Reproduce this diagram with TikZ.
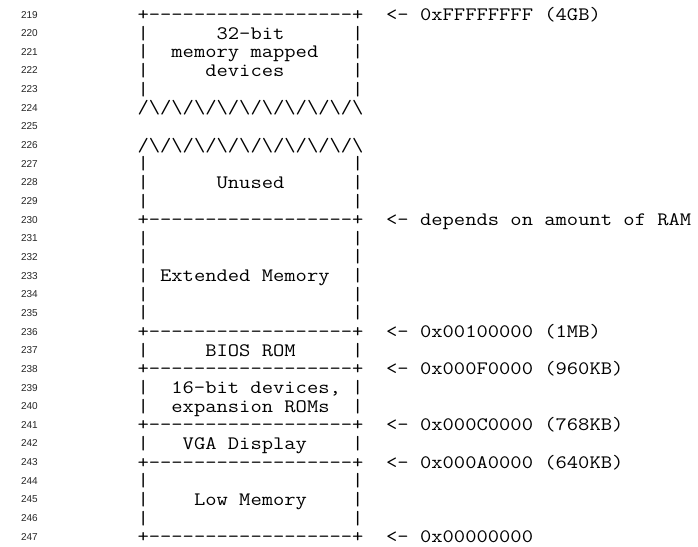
\documentclass[tikz,border=0pt]{standalone}
\usepackage{fontspec}
\setsansfont{Liberation Sans}
\newcommand{\bs}{\textbackslash}
\newcommand{\ml}[1]{\scalebox{1.155}[1]{#1}}
\tikzset{
  mono/.style={anchor=base west, inner sep=0pt, font=\ttfamily\fontsize{19}{19}\selectfont, text=black},
  lnum/.style={anchor=base east, inner sep=0pt, font=\sffamily\fontsize{10}{10}\selectfont, text=black!85},
}
\newcommand{\LY}[1]{20.5+18.65*#1}
\newcommand{\NY}[1]{18+18.65*#1}
\begin{document}
\begin{tikzpicture}[x=1pt,y=-1pt]
\useasboundingbox[fill=white] (0,0) rectangle (698,546);
% line numbers
\node[lnum] (n219) at (38,{\NY{0}}) {219};
\node[lnum] (n220) at (38,{\NY{1}}) {220};
\node[lnum] (n221) at (38,{\NY{2}}) {221};
\node[lnum] (n222) at (38,{\NY{3}}) {222};
\node[lnum] (n223) at (38,{\NY{4}}) {223};
\node[lnum] (n224) at (38,{\NY{5}}) {224};
\node[lnum] (n225) at (38,{\NY{6}}) {225};
\node[lnum] (n226) at (38,{\NY{7}}) {226};
\node[lnum] (n227) at (38,{\NY{8}}) {227};
\node[lnum] (n228) at (38,{\NY{9}}) {228};
\node[lnum] (n229) at (38,{\NY{10}}) {229};
\node[lnum] (n230) at (38,{\NY{11}}) {230};
\node[lnum] (n231) at (38,{\NY{12}}) {231};
\node[lnum] (n232) at (38,{\NY{13}}) {232};
\node[lnum] (n233) at (38,{\NY{14}}) {233};
\node[lnum] (n234) at (38,{\NY{15}}) {234};
\node[lnum] (n235) at (38,{\NY{16}}) {235};
\node[lnum] (n236) at (38,{\NY{17}}) {236};
\node[lnum] (n237) at (38,{\NY{18}}) {237};
\node[lnum] (n238) at (38,{\NY{19}}) {238};
\node[lnum] (n239) at (38,{\NY{20}}) {239};
\node[lnum] (n240) at (38,{\NY{21}}) {240};
\node[lnum] (n241) at (38,{\NY{22}}) {241};
\node[lnum] (n242) at (38,{\NY{23}}) {242};
\node[lnum] (n243) at (38,{\NY{24}}) {243};
\node[lnum] (n244) at (38,{\NY{25}}) {244};
\node[lnum] (n245) at (38,{\NY{26}}) {245};
\node[lnum] (n246) at (38,{\NY{27}}) {246};
\node[lnum] (n247) at (38,{\NY{28}}) {247};
% text lines
\node[mono] (l219) at (137.3,{\LY{0}}) {\ml{+------------------+~~<-~0xFFFFFFFF~(4GB)}};
\node[mono] (l220) at (137.3,{\LY{1}}) {\ml{|~~~~~~32-bit~~~~~~|}};
\node[mono] (l221) at (137.3,{\LY{2}}) {\ml{|~~memory~mapped~~~|}};
\node[mono] (l222) at (137.3,{\LY{3}}) {\ml{|~~~~~devices~~~~~~|}};
\node[mono] (l223) at (137.3,{\LY{4}}) {\ml{|~~~~~~~~~~~~~~~~~~|}};
\node[mono] (l224) at (137.3,{\LY{5}}) {\ml{/\bs/\bs/\bs/\bs/\bs/\bs/\bs/\bs/\bs/\bs}};
\node[mono] (l226) at (137.3,{\LY{7}}) {\ml{/\bs/\bs/\bs/\bs/\bs/\bs/\bs/\bs/\bs/\bs}};
\node[mono] (l227) at (137.3,{\LY{8}}) {\ml{|~~~~~~~~~~~~~~~~~~|}};
\node[mono] (l228) at (137.3,{\LY{9}}) {\ml{|~~~~~~Unused~~~~~~|}};
\node[mono] (l229) at (137.3,{\LY{10}}) {\ml{|~~~~~~~~~~~~~~~~~~|}};
\node[mono] (l230) at (137.3,{\LY{11}}) {\ml{+------------------+~~<-~depends~on~amount~of~RAM}};
\node[mono] (l231) at (137.3,{\LY{12}}) {\ml{|~~~~~~~~~~~~~~~~~~|}};
\node[mono] (l232) at (137.3,{\LY{13}}) {\ml{|~~~~~~~~~~~~~~~~~~|}};
\node[mono] (l233) at (137.3,{\LY{14}}) {\ml{|~Extended~Memory~~|}};
\node[mono] (l234) at (137.3,{\LY{15}}) {\ml{|~~~~~~~~~~~~~~~~~~|}};
\node[mono] (l235) at (137.3,{\LY{16}}) {\ml{|~~~~~~~~~~~~~~~~~~|}};
\node[mono] (l236) at (137.3,{\LY{17}}) {\ml{+------------------+~~<-~0x00100000~(1MB)}};
\node[mono] (l237) at (137.3,{\LY{18}}) {\ml{|~~~~~BIOS~ROM~~~~~|}};
\node[mono] (l238) at (137.3,{\LY{19}}) {\ml{+------------------+~~<-~0x000F0000~(960KB)}};
\node[mono] (l239) at (137.3,{\LY{20}}) {\ml{|~~16-bit~devices,~|}};
\node[mono] (l240) at (137.3,{\LY{21}}) {\ml{|~~expansion~ROMs~~|}};
\node[mono] (l241) at (137.3,{\LY{22}}) {\ml{+------------------+~~<-~0x000C0000~(768KB)}};
\node[mono] (l242) at (137.3,{\LY{23}}) {\ml{|~~~VGA~Display~~~~|}};
\node[mono] (l243) at (137.3,{\LY{24}}) {\ml{+------------------+~~<-~0x000A0000~(640KB)}};
\node[mono] (l244) at (137.3,{\LY{25}}) {\ml{|~~~~~~~~~~~~~~~~~~|}};
\node[mono] (l245) at (137.3,{\LY{26}}) {\ml{|~~~~Low~Memory~~~~|}};
\node[mono] (l246) at (137.3,{\LY{27}}) {\ml{|~~~~~~~~~~~~~~~~~~|}};
\node[mono] (l247) at (137.3,{\LY{28}}) {\ml{+------------------+~~<-~0x00000000}};
\end{tikzpicture}
\end{document}
